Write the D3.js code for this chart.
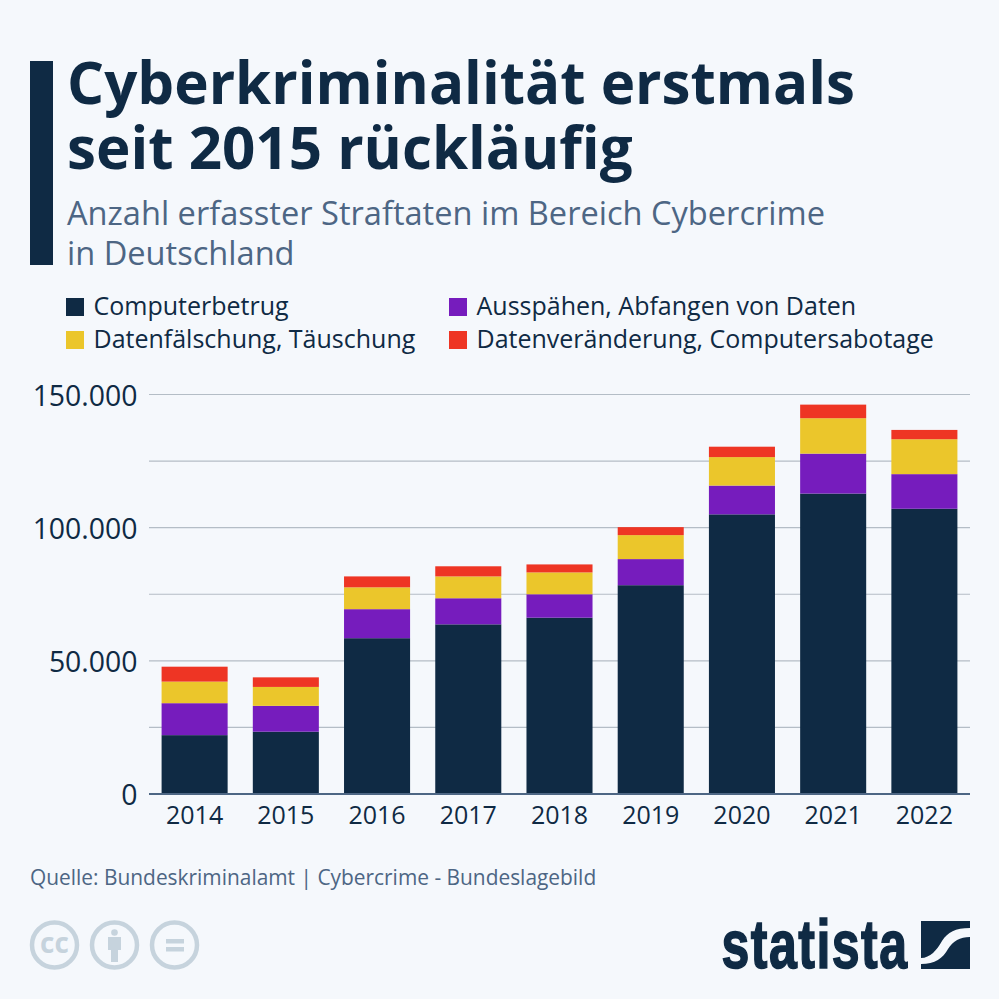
<!DOCTYPE html>
<html>
<head>
<meta charset="utf-8">
<script src="https://cdn.jsdelivr.net/npm/d3@7"></script>
<style>
  html, body { margin: 0; padding: 0; background: #f5f8fc; }
  text { font-family: "Open Sans", sans-serif; }
</style>
</head>
<body>
<svg id="chart" width="999" height="999"></svg>
<script>
var years = ['2014', '2015', '2016', '2017', '2018', '2019', '2020', '2021', '2022'];
var computerbetrug = [22100, 23400, 58500, 63700, 66200, 78400, 105000, 112800, 107100];
var ausspaehen = [12000, 9700, 10900, 9800, 8800, 9800, 10800, 15000, 13000];
var datenfaelschung = [8100, 7100, 8200, 8200, 8200, 9000, 10700, 13300, 13100];
var datenveraenderung = [5600, 3600, 4100, 3800, 3000, 3000, 3900, 5100, 3500];

var seriesNames = ['Computerbetrug', 'Ausspähen, Abfangen von Daten', 'Datenfälschung, Täuschung', 'Datenveränderung, Computersabotage'];
var seriesValues = [computerbetrug, ausspaehen, datenfaelschung, datenveraenderung];
var colors = ['#0f2a44', '#761cbd', '#ebc62b', '#ee3524'];
var gridTicks = [0, 25000, 50000, 75000, 100000, 125000, 150000];
var labelTicks = [0, 50000, 100000, 150000];

var dark = '#0f2a44', muted = '#4d6684', grid = '#b4bdc6', light = '#c6d3dd';
var svg = d3.select('#chart');

// header
svg.append('rect').attr('x', 30).attr('y', 61).attr('width', 23).attr('height', 204).attr('fill', dark);

function addText(x, y, str, size, color, weight) {
  return svg.append('text').attr('x', x).attr('y', y).text(str)
    .attr('font-size', size).attr('fill', color).attr('font-weight', weight || 400);
}
addText(67, 103.5, 'Cyberkriminalität erstmals', 58.3, dark, 700);
addText(67, 169, 'seit 2015 rückläufig', 58.3, dark, 700);
addText(67, 225, 'Anzahl erfasster Straftaten im Bereich Cybercrime', 32.6, muted);
addText(67, 265, 'in Deutschland', 32.6, muted);

// legend
var legendX = [66, 449], legendY = [298, 331];
seriesNames.forEach(function (name, i) {
  var cx = legendX[i % 2], cy = legendY[i > 1 ? 1 : 0];
  svg.append('rect').attr('x', cx).attr('y', cy).attr('width', 18).attr('height', 18).attr('fill', colors[i]);
  addText(cx + 27.5, cy + 17, name, 25, dark);
});

// scales
var x = d3.scaleBand().domain(years).range([149, 970]).paddingInner(0.276).paddingOuter(0.138);
var y = d3.scaleLinear().domain([0, 150000]).range([794, 394.5]);

// grid
svg.append('g').selectAll('line').data(gridTicks.slice(1)).enter().append('line')
  .attr('x1', 149).attr('x2', 970)
  .attr('y1', y).attr('y2', y)
  .attr('stroke', grid).attr('stroke-width', 1.2);

// stacked bars
var table = years.map(function (year, i) {
  var row = { year: year };
  seriesNames.forEach(function (name, s) { row[name] = seriesValues[s][i]; });
  return row;
});
var stacked = d3.stack().keys(seriesNames)(table);
svg.append('g').selectAll('g').data(stacked).enter().append('g')
  .attr('fill', function (d, i) { return colors[i]; })
  .selectAll('rect').data(function (d) { return d; }).enter().append('rect')
  .attr('x', function (d) { return x(d.data.year); })
  .attr('width', x.bandwidth())
  .attr('y', function (d) { return y(d[1]); })
  .attr('height', function (d) { return y(d[0]) - y(d[1]); });

// axes
var formatDe = function (v) { return d3.format(',')(v).replace(/,/g, '.'); };
svg.append('g').selectAll('text').data(labelTicks).enter().append('text')
  .attr('x', 137.5).attr('y', function (d) { return y(d) + 11; })
  .attr('text-anchor', 'end').attr('font-size', 28.4).attr('fill', dark)
  .text(formatDe);

svg.append('line').attr('x1', 149).attr('x2', 970).attr('y1', 794).attr('y2', 794)
  .attr('stroke', '#4d6684').attr('stroke-width', 2);

svg.append('g').selectAll('text').data(years).enter().append('text')
  .attr('x', function (d) { return x(d) + x.bandwidth() / 2; })
  .attr('y', 824).attr('text-anchor', 'middle').attr('font-size', 25).attr('fill', dark)
  .text(function (d) { return d; });

// source
addText(30, 885, 'Quelle: Bundeskriminalamt | Cybercrime - Bundeslagebild', 20.9, muted);

// cc icons
var iconX = [54.5, 114.5, 174.5];
iconX.forEach(function (cx) {
  svg.append('circle').attr('cx', cx).attr('cy', 945).attr('r', 22.5)
    .attr('fill', 'none').attr('stroke', light).attr('stroke-width', 4.5);
});
svg.append('text').attr('x', 54.5).attr('y', 952.5).attr('text-anchor', 'middle')
  .attr('font-size', 28).attr('font-weight', 700).attr('fill', light).text('cc');
svg.append('circle').attr('cx', 114.5).attr('cy', 932.5).attr('r', 3.3).attr('fill', light);
svg.append('path').attr('d', 'M108 937H121V950H118V962H111V950H108Z').attr('fill', light);
svg.append('rect').attr('x', 166).attr('y', 939).attr('width', 18).attr('height', 4.5).attr('fill', light);
svg.append('rect').attr('x', 166).attr('y', 947).attr('width', 18).attr('height', 4.5).attr('fill', light);

// statista logo
svg.append('text').attr('x', 721.5).attr('y', 968)
  .attr('textLength', 187).attr('lengthAdjust', 'spacingAndGlyphs')
  .style('font-family', '"Liberation Sans", sans-serif')
  .style('letter-spacing', '2px')
  .attr('font-size', 68).attr('font-weight', 700).attr('fill', dark)
  .attr('stroke', dark).attr('stroke-width', 1.6)
  .text('statista');
svg.append('path')
  .attr('d', 'M921 921H970V928C955 928 948 932 942 941C937 950 930 958 921 958Z')
  .attr('fill', dark);
svg.append('path')
  .attr('d', 'M970 937V969H921V964C935 964 943 958 948 949C953 941 960 937 970 937Z')
  .attr('fill', dark);
</script>
</body>
</html>
